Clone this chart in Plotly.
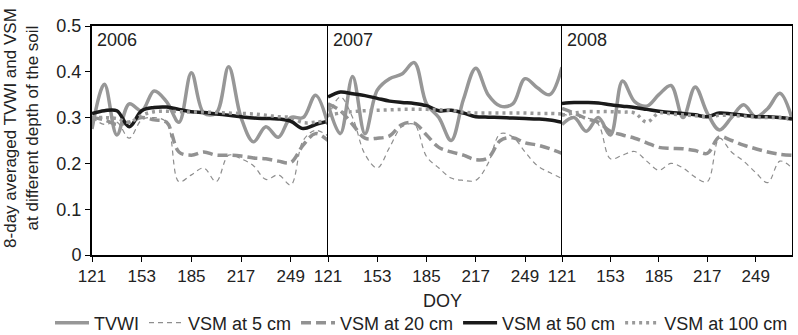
import plotly.graph_objects as go

doy = [121, 129, 137, 145, 153, 161, 169, 177, 185, 193, 201, 209, 217, 225, 233, 241, 249, 257, 265, 273]
tick_vals = [121, 153, 185, 217, 249]
tick_text = ["121", "153", "185", "217", "249"]
years = ["2006", "2007", "2008"]

tvwi_2006 = [0.275, 0.373, 0.262, 0.33, 0.315, 0.358, 0.335, 0.29, 0.398, 0.31, 0.31, 0.411, 0.30, 0.247, 0.28, 0.257, 0.30, 0.30, 0.349, 0.285]
vsm5_2006 = [0.30, 0.285, 0.29, 0.255, 0.295, 0.30, 0.29, 0.16, 0.175, 0.19, 0.16, 0.218, 0.21, 0.195, 0.165, 0.175, 0.153, 0.25, 0.272, 0.26]
vsm20_2006 = [0.30, 0.295, 0.285, 0.29, 0.30, 0.295, 0.29, 0.225, 0.218, 0.225, 0.218, 0.218, 0.216, 0.212, 0.21, 0.205, 0.202, 0.24, 0.265, 0.25]
vsm50_2006 = [0.309, 0.315, 0.315, 0.28, 0.315, 0.322, 0.323, 0.318, 0.313, 0.311, 0.308, 0.305, 0.302, 0.299, 0.298, 0.297, 0.292, 0.276, 0.285, 0.292]
vsm100_2006 = [0.30, 0.30, 0.298, 0.29, 0.305, 0.313, 0.314, 0.313, 0.312, 0.312, 0.311, 0.31, 0.309, 0.308, 0.305, 0.302, 0.30, 0.289, 0.29, 0.293]

tvwi_2007 = [0.33, 0.265, 0.39, 0.265, 0.36, 0.385, 0.395, 0.42, 0.33, 0.30, 0.25, 0.34, 0.408, 0.35, 0.325, 0.33, 0.385, 0.365, 0.35, 0.41]
vsm5_2007 = [0.30, 0.345, 0.30, 0.22, 0.19, 0.235, 0.28, 0.285, 0.215, 0.19, 0.168, 0.163, 0.163, 0.2, 0.265, 0.258, 0.225, 0.195, 0.18, 0.167]
vsm20_2007 = [0.33, 0.315, 0.285, 0.255, 0.255, 0.26, 0.285, 0.288, 0.262, 0.235, 0.225, 0.218, 0.208, 0.212, 0.25, 0.256, 0.245, 0.24, 0.232, 0.222]
vsm50_2007 = [0.345, 0.356, 0.352, 0.348, 0.342, 0.336, 0.333, 0.331, 0.326, 0.315, 0.316, 0.31, 0.302, 0.301, 0.300, 0.299, 0.298, 0.297, 0.295, 0.29]
vsm100_2007 = [0.305, 0.31, 0.313, 0.315, 0.316, 0.317, 0.318, 0.318, 0.318, 0.317, 0.316, 0.312, 0.31, 0.31, 0.31, 0.31, 0.31, 0.309, 0.309, 0.308]

tvwi_2008 = [0.285, 0.30, 0.27, 0.30, 0.262, 0.38, 0.335, 0.325, 0.35, 0.37, 0.30, 0.367, 0.31, 0.273, 0.30, 0.328, 0.302, 0.32, 0.353, 0.298]
vsm5_2008 = [0.31, 0.30, 0.30, 0.285, 0.21, 0.218, 0.226, 0.205, 0.185, 0.2, 0.19, 0.17, 0.16, 0.255, 0.225, 0.205, 0.18, 0.158, 0.205, 0.19]
vsm20_2008 = [0.32, 0.31, 0.298, 0.29, 0.27, 0.262, 0.255, 0.245, 0.235, 0.233, 0.232, 0.228, 0.222, 0.258, 0.25, 0.24, 0.232, 0.225, 0.22, 0.218]
vsm50_2008 = [0.331, 0.333, 0.333, 0.332, 0.328, 0.325, 0.322, 0.318, 0.314, 0.311, 0.309, 0.306, 0.302, 0.31, 0.308, 0.305, 0.302, 0.302, 0.30, 0.297]
vsm100_2008 = [0.305, 0.31, 0.313, 0.313, 0.313, 0.312, 0.31, 0.29, 0.31, 0.308, 0.306, 0.304, 0.302, 0.305, 0.305, 0.303, 0.301, 0.30, 0.30, 0.296]

series_names = ["TVWI", "VSM at 5 cm", "VSM at 20 cm", "VSM at 50 cm", "VSM at 100 cm"]
panels = [
    [tvwi_2006, vsm5_2006, vsm20_2006, vsm50_2006, vsm100_2006],
    [tvwi_2007, vsm5_2007, vsm20_2007, vsm50_2007, vsm100_2007],
    [tvwi_2008, vsm5_2008, vsm20_2008, vsm50_2008, vsm100_2008],
]

styles = [
    dict(color="#979797", width=3.5, dash="solid"),
    dict(color="#8e8e8e", width=1.2, dash="5px,4px"),
    dict(color="#929292", width=3.5, dash="10px,5px"),
    dict(color="#1a1a1a", width=3.5, dash="solid"),
    dict(color="#9a9a9a", width=3.5, dash="3px,4px"),
]

FONT = "Liberation Sans, Arial, sans-serif"
TXT = "#222"
fig = go.Figure()

for p, series in enumerate(panels):
    xa = "x" if p == 0 else f"x{p+1}"
    ya = "y" if p == 0 else f"y{p+1}"
    for s, vals in enumerate(series):
        st = styles[s]
        fig.add_trace(go.Scatter(
            x=doy, y=vals, mode="lines", name=series_names[s],
            line=dict(color=st["color"], width=st["width"], dash=st["dash"],
                      shape="spline", smoothing=1.0),
            xaxis=xa, yaxis=ya, showlegend=(p == 0), legendrank=s,
        ))

plot_w = 700.0
domains = [[0, 236 / plot_w], [236 / plot_w, 470 / plot_w], [470 / plot_w, 1]]

layout = dict(
    width=798, height=335,
    margin=dict(l=92, r=6, t=26, b=80, autoexpand=False),
    paper_bgcolor="white", plot_bgcolor="white",
    font=dict(family=FONT, size=17, color=TXT),
    showlegend=True,
    legend=dict(orientation="h", x=-0.06, xanchor="left", y=-0.297, yanchor="middle",
                font=dict(size=18, family=FONT, color=TXT), itemwidth=34,
                tracegroupgap=0, traceorder="normal", bgcolor="rgba(0,0,0,0)"),
)
for p in range(3):
    kx = "xaxis" if p == 0 else f"xaxis{p+1}"
    ky = "yaxis" if p == 0 else f"yaxis{p+1}"
    layout[kx] = dict(showline=True, linecolor="black", linewidth=1.5, mirror=True,
                      showgrid=False, zeroline=False,
                      domain=domains[p], range=[121, 273],
                      tickvals=tick_vals, ticktext=tick_text, ticks="outside",
                      ticklen=5, tickcolor="black", tickwidth=1,
                      tickfont=dict(size=17, family=FONT, color=TXT),
                      anchor="y" if p == 0 else f"y{p+1}")
    ydict = dict(showline=True, linecolor="black", showgrid=False, zeroline=False,
                 domain=[0, 1], range=[0, 0.5],
                 anchor="x" if p == 0 else f"x{p+1}")
    if p == 0:
        ydict.update(linewidth=2, mirror=False,
                     tickvals=[0, 0.1, 0.2, 0.3, 0.4, 0.5],
                     ticktext=["0", "0.1", "0.2", "0.3", "0.4", "0.5"],
                     ticks="outside", ticklen=5, tickcolor="black", tickwidth=1,
                     tickfont=dict(size=18, family=FONT, color=TXT))
    elif p == 1:
        ydict.update(linewidth=1, mirror=False, showticklabels=False, ticks="")
    else:
        ydict.update(linewidth=1, mirror=True, showticklabels=False, ticks="")
    layout[ky] = ydict

fig.update_layout(**layout)

annotations = []
for p, yr in enumerate(years):
    xr = "x domain" if p == 0 else f"x{p+1} domain"
    yr_ref = "y domain" if p == 0 else f"y{p+1} domain"
    annotations.append(dict(text=yr, xref=xr, yref=yr_ref, x=0.012, y=0.99,
                            xanchor="left", yanchor="top", showarrow=False,
                            font=dict(size=18, family=FONT, color=TXT)))
annotations.append(dict(text="DOY", xref="paper", yref="paper", x=0.5, y=-0.2,
                        xanchor="center", yanchor="middle", showarrow=False,
                        font=dict(size=18, family=FONT, color=TXT)))
annotations.append(dict(text="8-day averaged TVWI and VSM<br>at different depth of the soil",
                        xref="paper", yref="paper", x=-0.1, y=0.555,
                        xanchor="center", yanchor="middle", textangle=-90, showarrow=False,
                        font=dict(size=17, family=FONT, color=TXT)))
fig.update_layout(annotations=annotations)

fig.write_html("out.html")
